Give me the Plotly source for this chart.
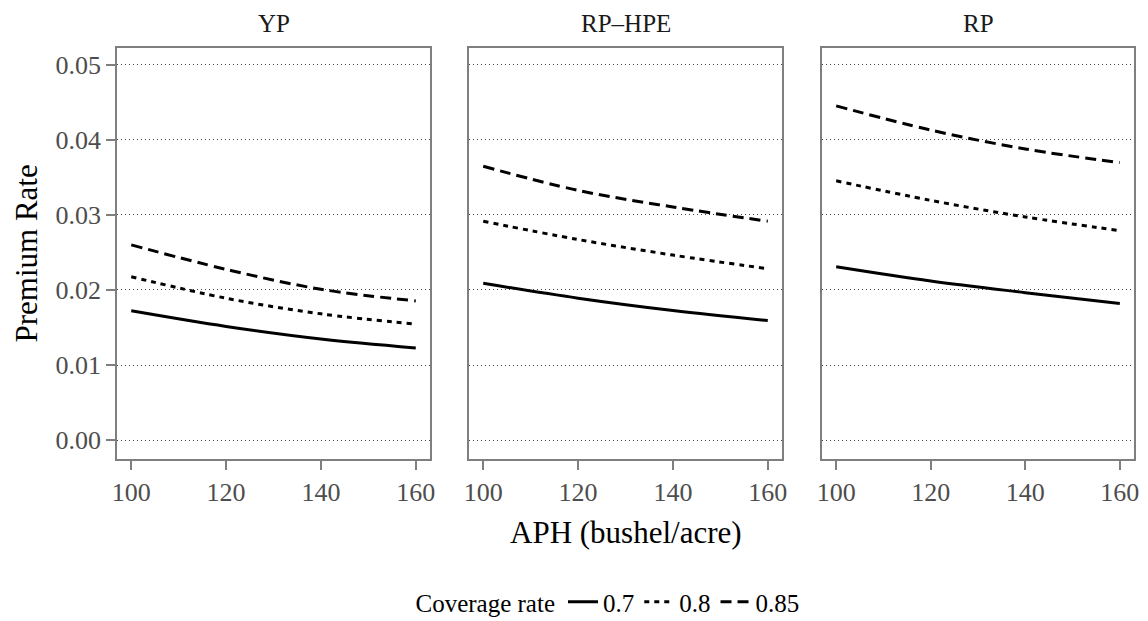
import plotly.graph_objects as go

# ---------------- data ----------------
aph = [100, 120, 140, 160]
panels = ["YP", "RP\u2013HPE", "RP"]
coverage_labels = ["0.7", "0.8", "0.85"]

yp_070 = [0.01722, 0.01514, 0.01347, 0.01228]
yp_080 = [0.02176, 0.01890, 0.01682, 0.01545]
yp_085 = [0.02600, 0.02274, 0.02009, 0.01854]

rphpe_070 = [0.02088, 0.01890, 0.01726, 0.01593]
rphpe_080 = [0.02914, 0.02671, 0.02464, 0.02282]
rphpe_085 = [0.03646, 0.03325, 0.03104, 0.02914]

rp_070 = [0.02309, 0.02119, 0.01964, 0.01819]
rp_080 = [0.03452, 0.03192, 0.02971, 0.02790]
rp_085 = [0.04450, 0.04128, 0.03876, 0.03695]

y_ticks = [0.00, 0.01, 0.02, 0.03, 0.04, 0.05]
y_ticktext = ["0.00", "0.01", "0.02", "0.03", "0.04", "0.05"]
x_ticks = [100, 120, 140, 160]

panel_data = [
    [yp_070, yp_080, yp_085],
    [rphpe_070, rphpe_080, rphpe_085],
    [rp_070, rp_080, rp_085],
]

# ---------------- styling ----------------
W, H = 1148, 621
FONT = "Liberation Serif"
dashes = ["solid", "5px,5px", "11px,6px"]
grey_line = "#7f7f7f"
tick_grey = "#4d4d4d"

# plot area in pixels
L, R, T, B = 117, 1134, 48, 459
PW, PH = R - L, B - T

def px_x(x):
    return (x - L) / PW

def px_y(y):
    return (B - y) / PH

x_domains_px = [(117, 430), (469, 782), (822, 1134)]

fig = go.Figure()

for p, series in enumerate(panel_data):
    xa = "x" if p == 0 else f"x{p+1}"
    ya = "y" if p == 0 else f"y{p+1}"
    for k, vals in enumerate(series):
        fig.add_trace(go.Scatter(
            x=aph, y=vals, mode="lines",
            line=dict(color="black", width=3, dash=dashes[k], shape="spline"),
            name=coverage_labels[k], legendgroup=coverage_labels[k],
            showlegend=(p == 0), xaxis=xa, yaxis=ya,
            hoverinfo="skip",
        ))

layout = dict(
    width=W, height=H,
    margin=dict(l=L, r=W - R, t=T, b=H - B, autoexpand=False),
    paper_bgcolor="white", plot_bgcolor="white",
    font=dict(family=FONT, size=25, color="black"),
    showlegend=True,
    legend=dict(
        orientation="h", x=px_x(609), xanchor="center", y=px_y(602), yanchor="middle",
        title=dict(text="Coverage rate", font=dict(family=FONT, size=25, color="black"), side="left"),
        font=dict(family=FONT, size=25, color="black"),
        itemwidth=30, tracegroupgap=0, bgcolor="rgba(0,0,0,0)",
    ),
)

for p in range(3):
    xk = "xaxis" if p == 0 else f"xaxis{p+1}"
    yk = "yaxis" if p == 0 else f"yaxis{p+1}"
    ya = "y" if p == 0 else f"y{p+1}"
    xa = "x" if p == 0 else f"x{p+1}"
    d0, d1 = x_domains_px[p]
    layout[xk] = dict(
        domain=[max(0, px_x(d0)), min(1, px_x(d1))], anchor=ya, range=[97, 163],
        tickvals=x_ticks, ticks="outside", ticklen=9, tickwidth=1.5, tickcolor=grey_line,
        tickfont=dict(family=FONT, size=26, color=tick_grey),
        showgrid=False, zeroline=False, automargin=False,
        showline=True, mirror=True, linecolor=grey_line, linewidth=1.5,
    )
    ydict = dict(
        domain=[0, 1], anchor=xa, range=[-0.0025, 0.0522],
        tickvals=y_ticks, ticktext=y_ticktext,
        showgrid=True, gridcolor="#444444", gridwidth=1, griddash="1px,3px",
        zeroline=False, automargin=False,
        showline=True, mirror=True, linecolor=grey_line, linewidth=1.5,
    )
    if p == 0:
        ydict.update(ticks="outside", ticklen=9, tickwidth=1.5, tickcolor=grey_line,
                     tickfont=dict(family=FONT, size=26, color=tick_grey))
    else:
        ydict.update(matches="y", showticklabels=False, ticks="")
    layout[yk] = ydict

annotations = []
for p, name in enumerate(panels):
    d0, d1 = x_domains_px[p]
    annotations.append(dict(
        text=name, xref="paper", yref="paper",
        x=px_x((d0 + d1) / 2), y=px_y(23.5), xanchor="center", yanchor="middle",
        showarrow=False, font=dict(family=FONT, size=25, color="#1a1a1a"),
    ))
annotations.append(dict(
    text="APH (bushel/acre)", xref="paper", yref="paper",
    x=px_x(625.5), y=px_y(532), xanchor="center", yanchor="middle",
    showarrow=False, font=dict(family=FONT, size=31, color="black"),
))
annotations.append(dict(
    text="Premium Rate", xref="paper", yref="paper",
    x=px_x(26), y=px_y(253.5), xanchor="center", yanchor="middle", textangle=-90,
    showarrow=False, font=dict(family=FONT, size=31, color="black"),
))
layout["annotations"] = annotations

fig.update_layout(**layout)
fig.write_html(
    "out.html",
    config={"displayModeBar": False},
    post_script="document.body.style.margin='0px';document.body.style.overflow='hidden';",
)
